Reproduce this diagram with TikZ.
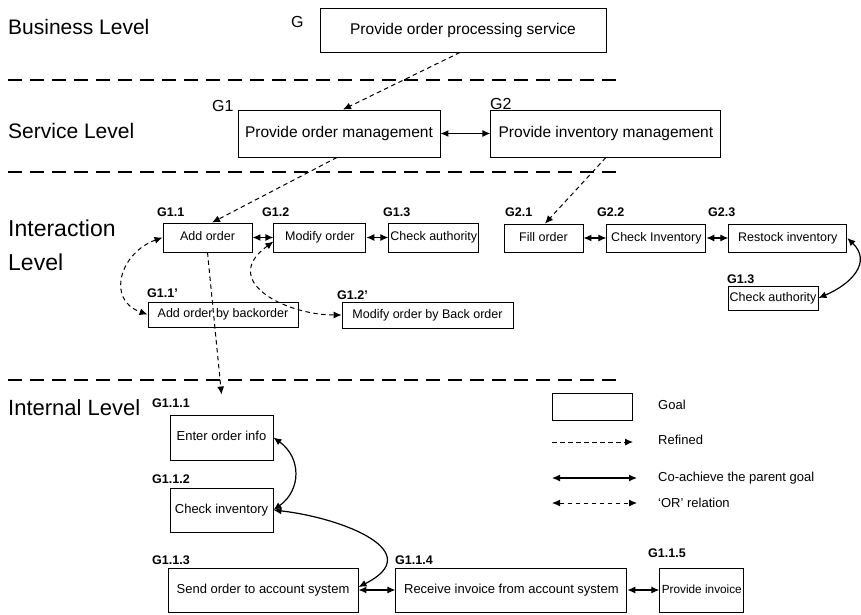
\documentclass[tikz,border=0pt]{standalone}
\usepackage{fontspec}
\setmainfont{Liberation Sans}
\usepackage{tikz}
\usetikzlibrary{positioning}
\usetikzlibrary{arrows.meta}
\tikzstyle{goal} = [draw, rectangle, line width=0.9pt, inner sep=1pt]
\tikzstyle{topgoal} = [goal, font=\fontsize{15.5}{18}\selectfont, text height=11.5pt, text depth=3.5pt, minimum height=47pt]
\tikzstyle{midgoal} = [goal, font=\fontsize{12.5}{15}\selectfont, text height=9pt, text depth=2.8pt, minimum height=28pt]
\tikzstyle{lowgoal} = [goal, font=\fontsize{13}{15}\selectfont, text height=9.5pt, text depth=3pt, minimum height=44pt]
\tikzstyle{gid} = [anchor=west, inner sep=0pt, font=\fontsize{12.5}{14}\selectfont\bfseries]
\tikzstyle{tid} = [anchor=west, inner sep=0pt, font=\fontsize{16}{18}\selectfont]
\tikzstyle{level} = [anchor=west, inner sep=0pt, align=left, font=\fontsize{21}{34}\selectfont]
\tikzstyle{legtxt} = [anchor=west, inner sep=0pt, font=\fontsize{13}{15}\selectfont]
\tikzstyle{sep} = [line width=2.6pt, dash pattern=on 14pt off 8pt]
\tikzstyle{refined} = [->, line width=1pt, dash pattern=on 4.5pt off 3.5pt]
\tikzstyle{coach} = [<->, line width=1.2pt]
\tikzstyle{orrel} = [<->, line width=1pt, dash pattern=on 4.5pt off 3.5pt]

\begin{document}
\begin{tikzpicture}[x=1pt, y=-1pt, >={Latex[length=8pt,width=7pt]}]
    \useasboundingbox (0,0) rectangle (861,614);

    % levels
    \node [level] (biz) at (8,27) {Business Level};
    \node [level] (svc) at (8,131) {Service Level};
    \node [level, font=\fontsize{23}{34}\selectfont] (inter) at (8,245) {Interaction\\Level};
    \node [level, font=\fontsize{22}{34}\selectfont] (intl) at (8,408) {Internal Level};
    \draw [sep] (8,80) -- (622,80);
    \draw [sep] (8,172) -- (622,172);
    \draw [sep] (8,380) -- (622,380);

    % business and service goals
    \node [topgoal, minimum width=286pt, minimum height=44pt] (g) at (463,30) {Provide order processing service};
    \node [topgoal, minimum width=202pt] (g1) at (339,133.5) {Provide order management};
    \node [topgoal, minimum width=230pt, right=50pt of g1] (g2) {Provide inventory management};
    \node [tid] (gl) at (291,22) {G};
    \node [tid] (g1l) at (212,106) {G1};
    \node [tid] (g2l) at (490,104) {G2};

    % interaction goals
    \node [midgoal, minimum width=89pt, minimum height=29pt] (addord) at (207.5,237.5) {Add order};
    \node [midgoal, minimum width=92pt, minimum height=29pt, right=21pt of addord] (modord) {Modify order};
    \node [midgoal, minimum width=90pt, minimum height=29pt, right=22pt of modord] (chkauth) {Check authority};
    \node [midgoal, minimum width=79pt] (fillord) at (543.5,238) {Fill order};
    \node [midgoal, minimum width=99pt, right=23pt of fillord] (chkinv) {Check Inventory};
    \node [midgoal, minimum width=118pt, right=22pt of chkinv] (restock) {Restock inventory};
    \node [midgoal, minimum width=90pt, minimum height=24pt] (chkauthb) at (773,298) {Check authority};
    \node [midgoal, minimum width=150pt, minimum height=25pt] (addback) at (223,314.5) {Add order by backorder};
    \node [midgoal, minimum width=171pt, minimum height=26pt] (modback) at (427.5,315) {Modify order by Back order};
    \node [gid] (addordl) at (157,212) {G1.1};
    \node [gid] (modordl) at (262,212) {G1.2};
    \node [gid] (chkauthl) at (383,212) {G1.3};
    \node [gid] (fillordl) at (505,212) {G2.1};
    \node [gid] (chkinvl) at (597,212) {G2.2};
    \node [gid] (restockl) at (708,212) {G2.3};
    \node [gid] (chkauthbl) at (727,279) {G1.3};
    \node [gid] (addbackl) at (147,293) {G1.1'};
    \node [gid] (modbackl) at (337,295) {G1.2'};

    % internal goals
    \node [lowgoal, minimum width=103pt, minimum height=45pt] (enter) at (221.5,437.5) {Enter order info};
    \node [lowgoal, minimum width=103pt] (chkstock) at (221.5,510) {Check inventory};
    \node [lowgoal, minimum width=190pt] (send) at (263,590) {Send order to account system};
    \node [lowgoal, minimum width=231pt, right=37pt of send] (recv) {Receive invoice from account system};
    \node [lowgoal, minimum width=84pt, font=\fontsize{11.8}{14}\selectfont, right=32pt of recv] (provinv) {Provide invoice};
    \node [gid] (enterl) at (152,403) {G1.1.1};
    \node [gid] (chkstockl) at (152,479) {G1.1.2};
    \node [gid] (sendl) at (152,560) {G1.1.3};
    \node [gid] (recvl) at (395,560) {G1.1.4};
    \node [gid] (provinvl) at (648,553) {G1.1.5};

    % legend
    \node [goal, minimum width=80pt, minimum height=27pt] (leggoal) at (592,406.5) {};
    \node [legtxt] (leggoalt) at (658,405) {Goal};
    \coordinate (refa) at (552,442);
    \coordinate (refb) at (633,442);
    \node [legtxt] (legreft) at (658,440) {Refined};
    \coordinate (coa) at (552,478);
    \coordinate (cob) at (637,478);
    \node [legtxt] (legcot) at (658,478) {Co-achieve the parent goal};
    \coordinate (ora) at (552,503);
    \coordinate (orb) at (637,503);
    \node [legtxt] (legort) at (658,503) {`OR' relation};
    \draw [refined] (refa) -- (refb);
    \draw [coach] (coa) -- (cob);
    \draw [orrel] (ora) -- (orb);

    % refinements
    \draw [refined] ([xshift=-3pt]g.south) -- ([xshift=4pt]g1.north);
    \draw [refined] ([xshift=-2pt]g1.south) -- ([xshift=4.5pt]addord.north);
    \draw [refined] (g2.south) -- ([xshift=1.5pt]fillord.north);
    \draw [refined] (addord.south) -- ([yshift=20pt]enter.north);

    % co-achieve
    \draw [coach] (g1) -- (g2);
    \draw [coach] (addord) -- (modord);
    \draw [coach] (modord) -- (chkauth);
    \draw [coach] (fillord) -- (chkinv);
    \draw [coach] (chkinv) -- (restock);
    \draw [coach] (restock.east) .. controls +(25,24) and +(33,-14) .. (chkauthb.east);
    \draw [coach] (enter.east) .. controls +(28,20) and +(28,-20) .. (chkstock.east);
    \draw [coach] (chkstock.east) .. controls +(70,8) and +(70,-35) .. ([yshift=3pt]send.east);
    \draw [coach] (send) -- (recv);
    \draw [coach] (recv) -- (provinv);

    % or relations
    \draw [orrel] (addord.west) .. controls +(-42,15) and +(-42,-15) .. (addback.west);
    \draw [orrel] ([yshift=-4pt]modord.west) .. controls +(-55,40) and +(-55,0) .. (modback.west);
\end{tikzpicture}
\end{document}
